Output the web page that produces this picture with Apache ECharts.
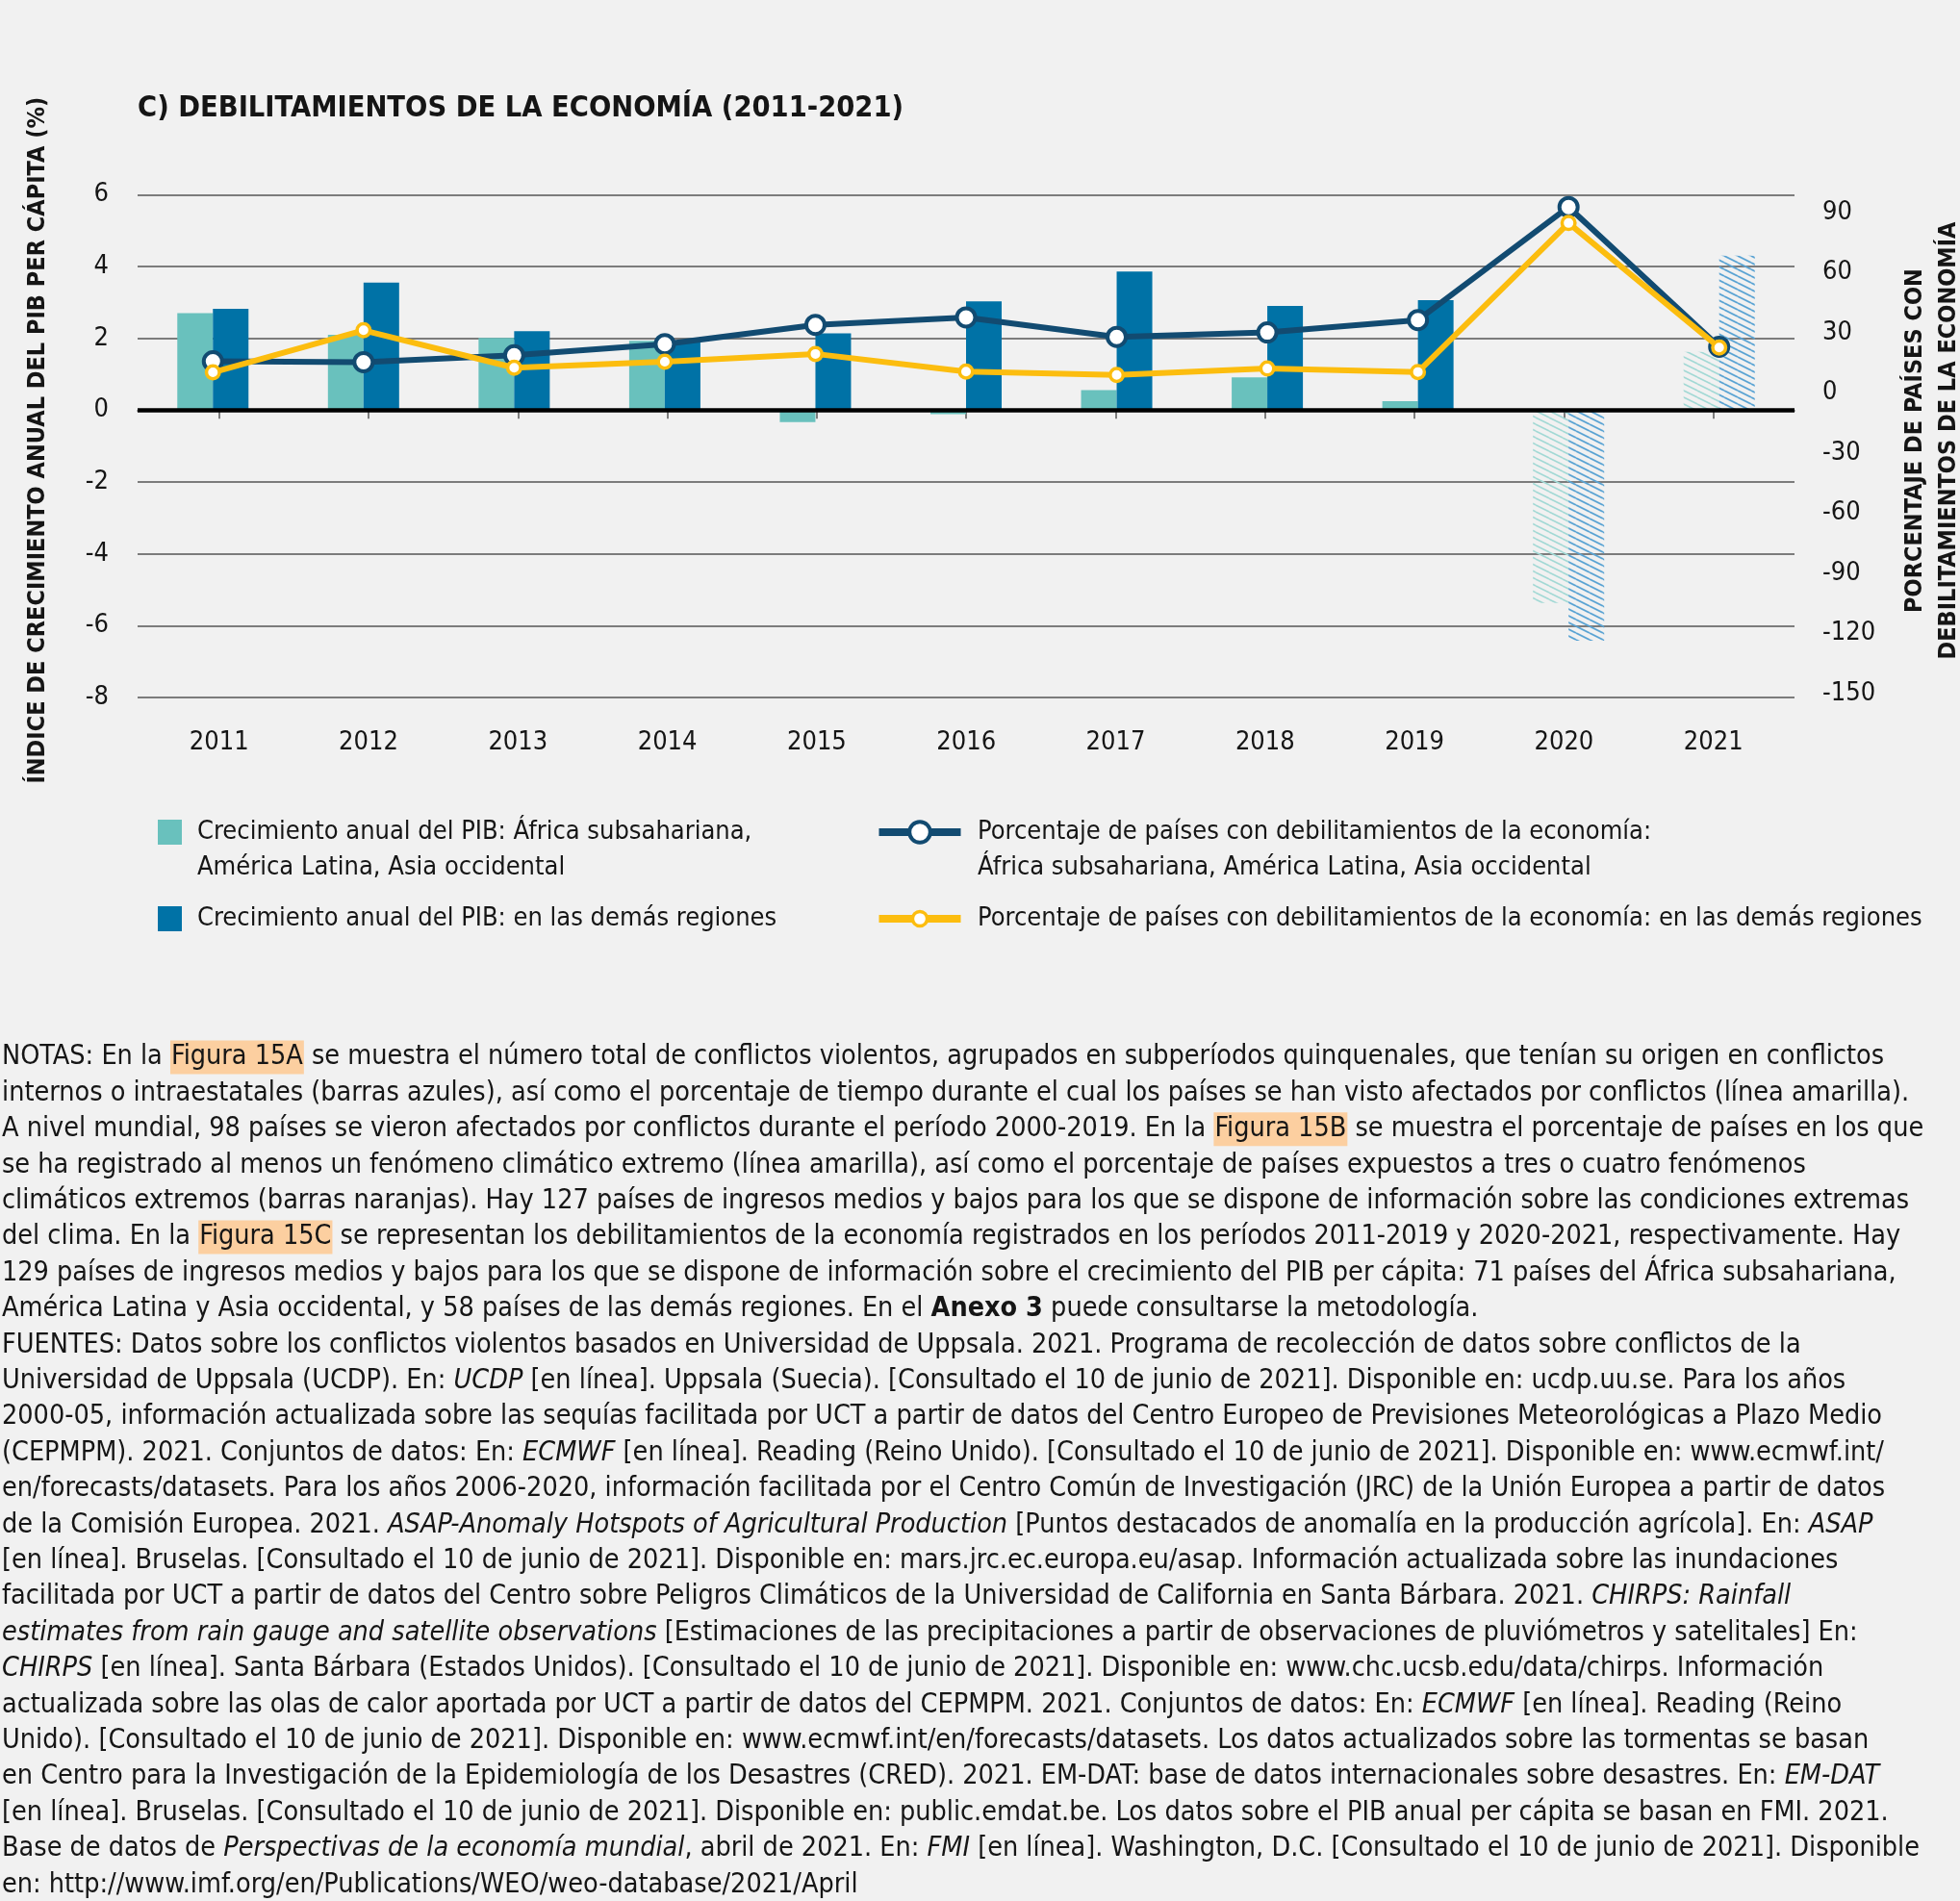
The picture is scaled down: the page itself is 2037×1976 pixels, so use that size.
<!DOCTYPE html>
<html><head><meta charset="utf-8">
<script src="https://cdn.jsdelivr.net/npm/echarts@6/dist/echarts.min.js"></script>
<style>html,body{margin:0;padding:0;background:#f1f1f1}#c{width:2037px;height:1976px}</style>
</head><body><div id="c"></div><script>
// ---- data ----
const years = ['2011','2012','2013','2014','2015','2016','2017','2018','2019','2020','2021'];
const projectedYears = ['2020','2021'];
const gdpSSA   = [2.70, 2.10, 2.01, 1.93, -0.33, -0.11, 0.56, 0.91, 0.25, -5.37, 1.62];
const gdpOther = [2.82, 3.55, 2.20, 1.90, 2.14, 3.03, 3.86, 2.90, 3.06, -6.42, 4.30];
const pctSSA   = [15.6, 15.2, 18.6, 24.2, 33.8, 37.5, 27.8, 30.0, 36.2, 92.6, 22.9];
const pctOther = [10.1, 31.1, 12.4, 15.4, 19.3, 10.5, 8.8, 12.0, 10.3, 84.6, 22.5];
const leftTicks = {min: -8, max: 6, interval: 2};
const rightTicks = {min: -150, max: 90, interval: 30};

const nameSSA = 'Crecimiento anual del PIB: África subsahariana, América Latina, Asia occidental';
const nameOther = 'Crecimiento anual del PIB: en las demás regiones';
const namePctSSA = 'Porcentaje de países con debilitamientos de la economía: África subsahariana, América Latina, Asia occidental';
const namePctOther = 'Porcentaje de países con debilitamientos de la economía: en las demás regiones';
const titleText = 'C) DEBILITAMIENTOS DE LA ECONOMÍA (2011-2021)';
const leftAxisName = 'ÍNDICE DE CRECIMIENTO ANUAL DEL PIB PER CÁPITA (%)';
const rightAxisName = 'PORCENTAJE DE PAÍSES CON\nDEBILITAMIENTOS DE LA ECONOMÍA';

const notes = [
 'NOTAS: En la [[Figura 15A]] se muestra el número total de conflictos violentos, agrupados en subperíodos quinquenales, que tenían su origen en conflictos',
 'internos o intraestatales (barras azules), así como el porcentaje de tiempo durante el cual los países se han visto afectados por conflictos (línea amarilla).',
 'A nivel mundial, 98 países se vieron afectados por conflictos durante el período 2000-2019. En la [[Figura 15B]] se muestra el porcentaje de países en los que',
 'se ha registrado al menos un fenómeno climático extremo (línea amarilla), así como el porcentaje de países expuestos a tres o cuatro fenómenos',
 'climáticos extremos (barras naranjas). Hay 127 países de ingresos medios y bajos para los que se dispone de información sobre las condiciones extremas',
 'del clima. En la [[Figura 15C]] se representan los debilitamientos de la economía registrados en los períodos 2011-2019 y 2020-2021, respectivamente. Hay',
 '129 países de ingresos medios y bajos para los que se dispone de información sobre el crecimiento del PIB per cápita: 71 países del África subsahariana,',
 'América Latina y Asia occidental, y 58 países de las demás regiones. En el **Anexo 3** puede consultarse la metodología.',
 'FUENTES: Datos sobre los conflictos violentos basados en Universidad de Uppsala. 2021. Programa de recolección de datos sobre conflictos de la',
 'Universidad de Uppsala (UCDP). En: *UCDP* [en línea]. Uppsala (Suecia). [Consultado el 10 de junio de 2021]. Disponible en: ucdp.uu.se. Para los años',
 '2000-05, información actualizada sobre las sequías facilitada por UCT a partir de datos del Centro Europeo de Previsiones Meteorológicas a Plazo Medio',
 '(CEPMPM). 2021. Conjuntos de datos: En: *ECMWF* [en línea]. Reading (Reino Unido). [Consultado el 10 de junio de 2021]. Disponible en: www.ecmwf.int/',
 'en/forecasts/datasets. Para los años 2006-2020, información facilitada por el Centro Común de Investigación (JRC) de la Unión Europea a partir de datos',
 'de la Comisión Europea. 2021. *ASAP-Anomaly Hotspots of Agricultural Production* [Puntos destacados de anomalía en la producción agrícola]. En: *ASAP*',
 '[en línea]. Bruselas. [Consultado el 10 de junio de 2021]. Disponible en: mars.jrc.ec.europa.eu/asap. Información actualizada sobre las inundaciones',
 'facilitada por UCT a partir de datos del Centro sobre Peligros Climáticos de la Universidad de California en Santa Bárbara. 2021. *CHIRPS: Rainfall*',
 '*estimates from rain gauge and satellite observations* [Estimaciones de las precipitaciones a partir de observaciones de pluviómetros y satelitales] En:',
 '*CHIRPS* [en línea]. Santa Bárbara (Estados Unidos). [Consultado el 10 de junio de 2021]. Disponible en: www.chc.ucsb.edu/data/chirps. Información',
 'actualizada sobre las olas de calor aportada por UCT a partir de datos del CEPMPM. 2021. Conjuntos de datos: En: *ECMWF* [en línea]. Reading (Reino',
 'Unido). [Consultado el 10 de junio de 2021]. Disponible en: www.ecmwf.int/en/forecasts/datasets. Los datos actualizados sobre las tormentas se basan',
 'en Centro para la Investigación de la Epidemiología de los Desastres (CRED). 2021. EM-DAT: base de datos internacionales sobre desastres. En: *EM-DAT*',
 '[en línea]. Bruselas. [Consultado el 10 de junio de 2021]. Disponible en: public.emdat.be. Los datos sobre el PIB anual per cápita se basan en FMI. 2021.',
 'Base de datos de *Perspectivas de la economía mundial*, abril de 2021. En: *FMI* [en línea]. Washington, D.C. [Consultado el 10 de junio de 2021]. Disponible',
 'en: http://www.imf.org/en/Publications/WEO/weo-database/2021/April'
];

// ---- styles ----
const F = "'Liberation Sans Narrow', 'DejaVu Sans Condensed', 'Arial Narrow', sans-serif";
const TEAL = '#69c1bd', BLUE = '#0072a6', NAVY = '#124b71', YELLOW = '#fcbd0f', INK = '#151515';

function hatch(color, lw) {
  const c = document.createElement('canvas');
  c.width = 14; c.height = 7;
  const g = c.getContext('2d');
  g.strokeStyle = color; g.lineWidth = lw;
  [[0,0,14,7],[0,-7,14,0],[0,7,14,14]].forEach(s => { g.beginPath(); g.moveTo(s[0],s[1]); g.lineTo(s[2],s[3]); g.stroke(); });
  return {image: c, repeat: 'repeat'};
}
const hatchTeal = hatch('#a3d9d5', 1.6);
const hatchBlue = hatch('#5aa3d3', 1.8);

function barData(vals, pattern) {
  return vals.map((v, i) => projectedYears.includes(years[i]) ? {value: v, itemStyle: {color: pattern}} : v);
}

function toRich(s) {
  return s.replace(/\[\[(.+?)\]\]/g, '{h|$1}').replace(/\*\*(.+?)\*\*/g, '{b|$1}').replace(/\*(.+?)\*/g, '{i|$1}');
}
const NFS = 28.5;
const richNotes = {
  h: {fontFamily: F, fontSize: NFS, fill: INK, backgroundColor: '#fccfa0', padding: [3, 1, 3, 1]},
  b: {fontFamily: F, fontSize: NFS, fill: INK, fontWeight: 'bold'},
  i: {fontFamily: F, fontSize: NFS, fill: INK, fontStyle: 'italic'}
};
const noteGraphics = notes.map((t, i) => ({
  type: 'text', x: 2, y: 1099 + 37.4 * i,
  style: {text: toRich(t), fontFamily: F, fontSize: NFS, fill: INK, verticalAlign: 'middle', rich: richNotes}
}));

const chart = echarts.init(document.getElementById('c'));
const LFS = 27;
const legendText = {fontFamily: F, fontSize: LFS, color: INK, lineHeight: 36.5};
chart.setOption({
  backgroundColor: '#f1f1f1',
  animation: false,
  title: {text: titleText, left: 143, top: 93.5, padding: 0,
    textStyle: {fontFamily: F, fontWeight: 'bold', fontSize: 30.5, color: INK, lineHeight: 40}},
  grid: [
    {left: 143, right: 172, top: 202.3, bottom: 1251},
    {left: 143, right: 172, top: 220.6, bottom: 1255.4},
    {left: 150.05, right: 178.65, top: 202.3, bottom: 1251}
  ],
  xAxis: [
    {type: 'category', gridIndex: 0, data: years,
     axisLine: {lineStyle: {color: '#555', width: 1.5}},
     axisTick: {show: false}, axisLabel: {show: false}},
    {type: 'category', gridIndex: 1, data: years, show: false},
    {type: 'category', gridIndex: 2, data: years,
     axisLine: {show: false},
     axisTick: {show: true, alignWithLabel: true, length: 9, lineStyle: {color: '#555', width: 1.5}},
     axisLabel: {fontFamily: F, fontSize: 27, color: INK, margin: 33}}
  ],
  yAxis: [
    {type: 'value', gridIndex: 0, min: leftTicks.min, max: leftTicks.max, interval: leftTicks.interval,
     name: leftAxisName, nameLocation: 'middle', nameRotate: 90, nameGap: 91,
     nameTextStyle: {fontFamily: F, fontWeight: 'bold', fontSize: 25, color: INK, padding: [0, 0, 0, 12]},
     axisLine: {show: false}, axisTick: {show: false},
     axisLabel: {fontFamily: F, fontSize: 27, color: INK, margin: 30},
     splitLine: {lineStyle: {color: '#555', width: 1.5}}},
    {type: 'value', gridIndex: 1, position: 'right', min: rightTicks.min, max: rightTicks.max, interval: rightTicks.interval,
     axisLine: {show: false}, axisTick: {show: false}, splitLine: {show: false},
     axisLabel: {fontFamily: F, fontSize: 27, color: INK, margin: 29}},
    {type: 'value', gridIndex: 2, min: leftTicks.min, max: leftTicks.max, show: false}
  ],
  legend: [
    {data: [nameSSA], left: 164, top: 810.25, padding: 0, itemWidth: 25, itemHeight: 26, icon: 'rect', selectedMode: false,
     formatter: n => '\n' + n.replace(', América', ',\nAmérica'),
     textStyle: Object.assign({}, legendText, {padding: [0, 0, 0, 11]})},
    {data: [nameOther], left: 164, top: 936.75, padding: 0, itemWidth: 25, itemHeight: 26, icon: 'rect', selectedMode: false,
     textStyle: Object.assign({}, legendText, {padding: [0, 0, 0, 11]})},
    {data: [namePctSSA], left: 909.5, top: 810.25, padding: 0, itemWidth: 85, itemHeight: 27, selectedMode: false,
     formatter: n => '\n' + n.replace(': África', ':\nÁfrica'),
     lineStyle: {width: 8}, itemStyle: {borderWidth: 4},
     textStyle: Object.assign({}, legendText, {padding: [0, 0, 0, 12.5]})},
    {data: [namePctOther], left: 909.5, top: 936.75, padding: 0, itemWidth: 85, itemHeight: 19, selectedMode: false,
     lineStyle: {width: 8}, itemStyle: {borderWidth: 3.5},
     textStyle: Object.assign({}, legendText, {padding: [0, 0, 0, 12.5]})}
  ],
  series: [
    {name: nameSSA, type: 'bar', xAxisIndex: 0, yAxisIndex: 0, barWidth: 37, barGap: '0%',
     itemStyle: {color: TEAL}, data: barData(gdpSSA, hatchTeal),
     markLine: {silent: true, symbol: 'none', label: {show: false}, data: [{yAxis: 0}],
       lineStyle: {color: '#000', width: 4.5, type: 'solid'}}},
    {name: nameOther, type: 'bar', xAxisIndex: 0, yAxisIndex: 0, barWidth: 37, barGap: '0%',
     itemStyle: {color: BLUE}, data: barData(gdpOther, hatchBlue)},
    {name: namePctSSA, type: 'line', xAxisIndex: 1, yAxisIndex: 1, z: 3, clip: false, data: pctSSA,
     symbol: 'circle', symbolSize: 19, lineStyle: {color: NAVY, width: 6},
     itemStyle: {color: '#fff', borderColor: NAVY, borderWidth: 4}},
    {name: namePctOther, type: 'line', xAxisIndex: 1, yAxisIndex: 1, z: 4, clip: false, data: pctOther,
     symbol: 'circle', symbolSize: 13.5, lineStyle: {color: YELLOW, width: 6},
     itemStyle: {color: '#fff', borderColor: YELLOW, borderWidth: 3.5}}
  ],
  graphic: [
    {type: 'text', x: 2008, y: 458, rotation: Math.PI / 2,
     style: {text: rightAxisName, fontFamily: F, fontWeight: 'bold', fontSize: 25, fill: INK,
       align: 'center', verticalAlign: 'middle', lineHeight: 35}}
  ].concat(noteGraphics)
});
</script></body></html>
